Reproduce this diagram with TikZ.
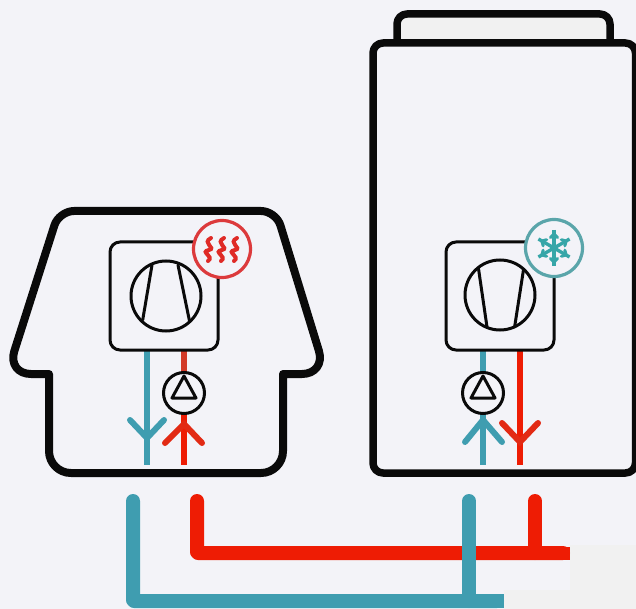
\documentclass[tikz,border=0pt]{standalone}
\definecolor{bgc}{HTML}{F3F3F8}
\definecolor{bgg}{HTML}{F1F1F1}
\definecolor{tealc}{HTML}{3F9DB0}
\definecolor{snow}{HTML}{36A6A8}
\definecolor{redc}{HTML}{EE1C04}
\definecolor{redd}{HTML}{D23A28}
\definecolor{reda}{HTML}{E22A14}
\definecolor{wave}{HTML}{DF2A26}
\definecolor{ink}{HTML}{0A0A0A}
\definecolor{ringr}{HTML}{DC3A3C}
\definecolor{ringt}{HTML}{5AA5AA}
\tikzset{
  heavy/.style={draw=ink,line width=7.5pt,line join=round},
  thin box/.style={draw=ink,line width=3pt,rounded corners=10pt,fill=bgc},
  ink line/.style={draw=ink,line width=3pt,line cap=round},
  pipe/.style={line width=6pt,line cap=butt},
  feed/.style={line width=14pt,line cap=round,line join=round,rounded corners=1pt},
  arrowline/.style={line width=6pt,line cap=round,line join=miter},
  badge/.style={line width=3.2pt,fill=bgc},
}
\begin{document}
\begin{tikzpicture}[x=1pt,y=-1pt]
\useasboundingbox (0,0) rectangle (636,609);
\fill[bgc] (0,0) rectangle (636,609);
\fill[bgg] (636,545) -- (570,545) -- (570,590) -- (504,590) -- (504,609) -- (636,609) -- cycle;
% tall unit
\draw[heavy,fill=bgg,rounded corners=10pt] (397,43) -- (397,14) -- (610,14) -- (610,43);
\draw[heavy,rounded corners=10pt] (373,43) rectangle (635.5,473);
% house
\draw[heavy,line width=8pt] (49,374) [rounded corners=24pt] -- (7,374) [rounded corners=15pt] -- (59,211) -- (276,211) [rounded corners=24pt] -- (326,374) [sharp corners] -- (283,374) [rounded corners=22pt] -- (283,473) -- (49,473) [sharp corners] -- cycle;
% left module
\draw[pipe,tealc] (147,350) -- (147,465);
\draw[pipe,redd] (184,350) -- (184,375);
\draw[pipe,redc] (184,412) -- (184,465);
\draw[arrowline,tealc] (130,420) -- (147,438) -- (164,420);
\draw[arrowline,reda] (165,443) -- (184,424) -- (202,443);
\draw[thin box] (110,242) rectangle (218,350);
\draw[ink line] (166,296) circle[radius=35];
\draw[ink line] (152,265) -- (142.7,320);
\draw[ink line] (178,265) -- (189.5,321);
\draw[ink line,fill=bgc] (184,393) circle[radius=20.5];
\draw[ink line,line join=round] (184,376) -- (172,398) -- (196,398) -- cycle;
\draw[badge,draw=ringr] (222,249) circle[radius=28.5];
\foreach \dx in {-13,0,13}{
  \draw[wave,line width=4pt,line cap=round] (224+\dx,238) .. controls (214+\dx,243) and (230+\dx,248) .. (222+\dx,250) .. controls (212+\dx,252) and (228+\dx,256) .. (221+\dx,261);
}
% right module
\draw[pipe,tealc] (483,350) -- (483,375);
\draw[pipe,tealc] (483,412) -- (483,465);
\draw[pipe,redc] (520,350) -- (520,465);
\draw[arrowline,tealc] (465,442) -- (483,420) -- (502,442);
\draw[arrowline,reda] (502,423) -- (520,442) -- (538,423);
\draw[thin box] (446,242) rectangle (554,350);
\draw[ink line] (500,295) circle[radius=35];
\draw[ink line] (478.4,268) -- (487,327);
\draw[ink line] (523.6,269) -- (514.6,327);
\draw[ink line,fill=bgc] (483,393) circle[radius=20.5];
\draw[ink line,line join=round] (483,376) -- (471,398) -- (495,398) -- cycle;
\draw[badge,draw=ringt] (554,248) circle[radius=28.5];
\foreach \a in {30,90,150}{
  \draw[snow,line width=3.4pt] (554,248) ++(\a:-18) -- ++(\a:36);
}
\foreach \a in {30,90,150,210,270,330}{
  \draw[snow,line width=3pt,line cap=round,line join=round] (554,248) ++(\a:14) ++(\a+135:5) -- ++(\a-45:5) -- ++(\a-135:5);
}
% connections
\draw[feed,redc] (197,501) -- (197,553) -- (563,553);
\fill[redc] (560,546.5) rectangle (570,559.5);
\draw[feed,redc] (535,501) -- (535,553);
\draw[feed,tealc] (133,501) -- (133,601) -- (497,601);
\fill[tealc] (495,594) rectangle (504,608);
\draw[feed,tealc] (469,501) -- (469,601);
\end{tikzpicture}
\end{document}
